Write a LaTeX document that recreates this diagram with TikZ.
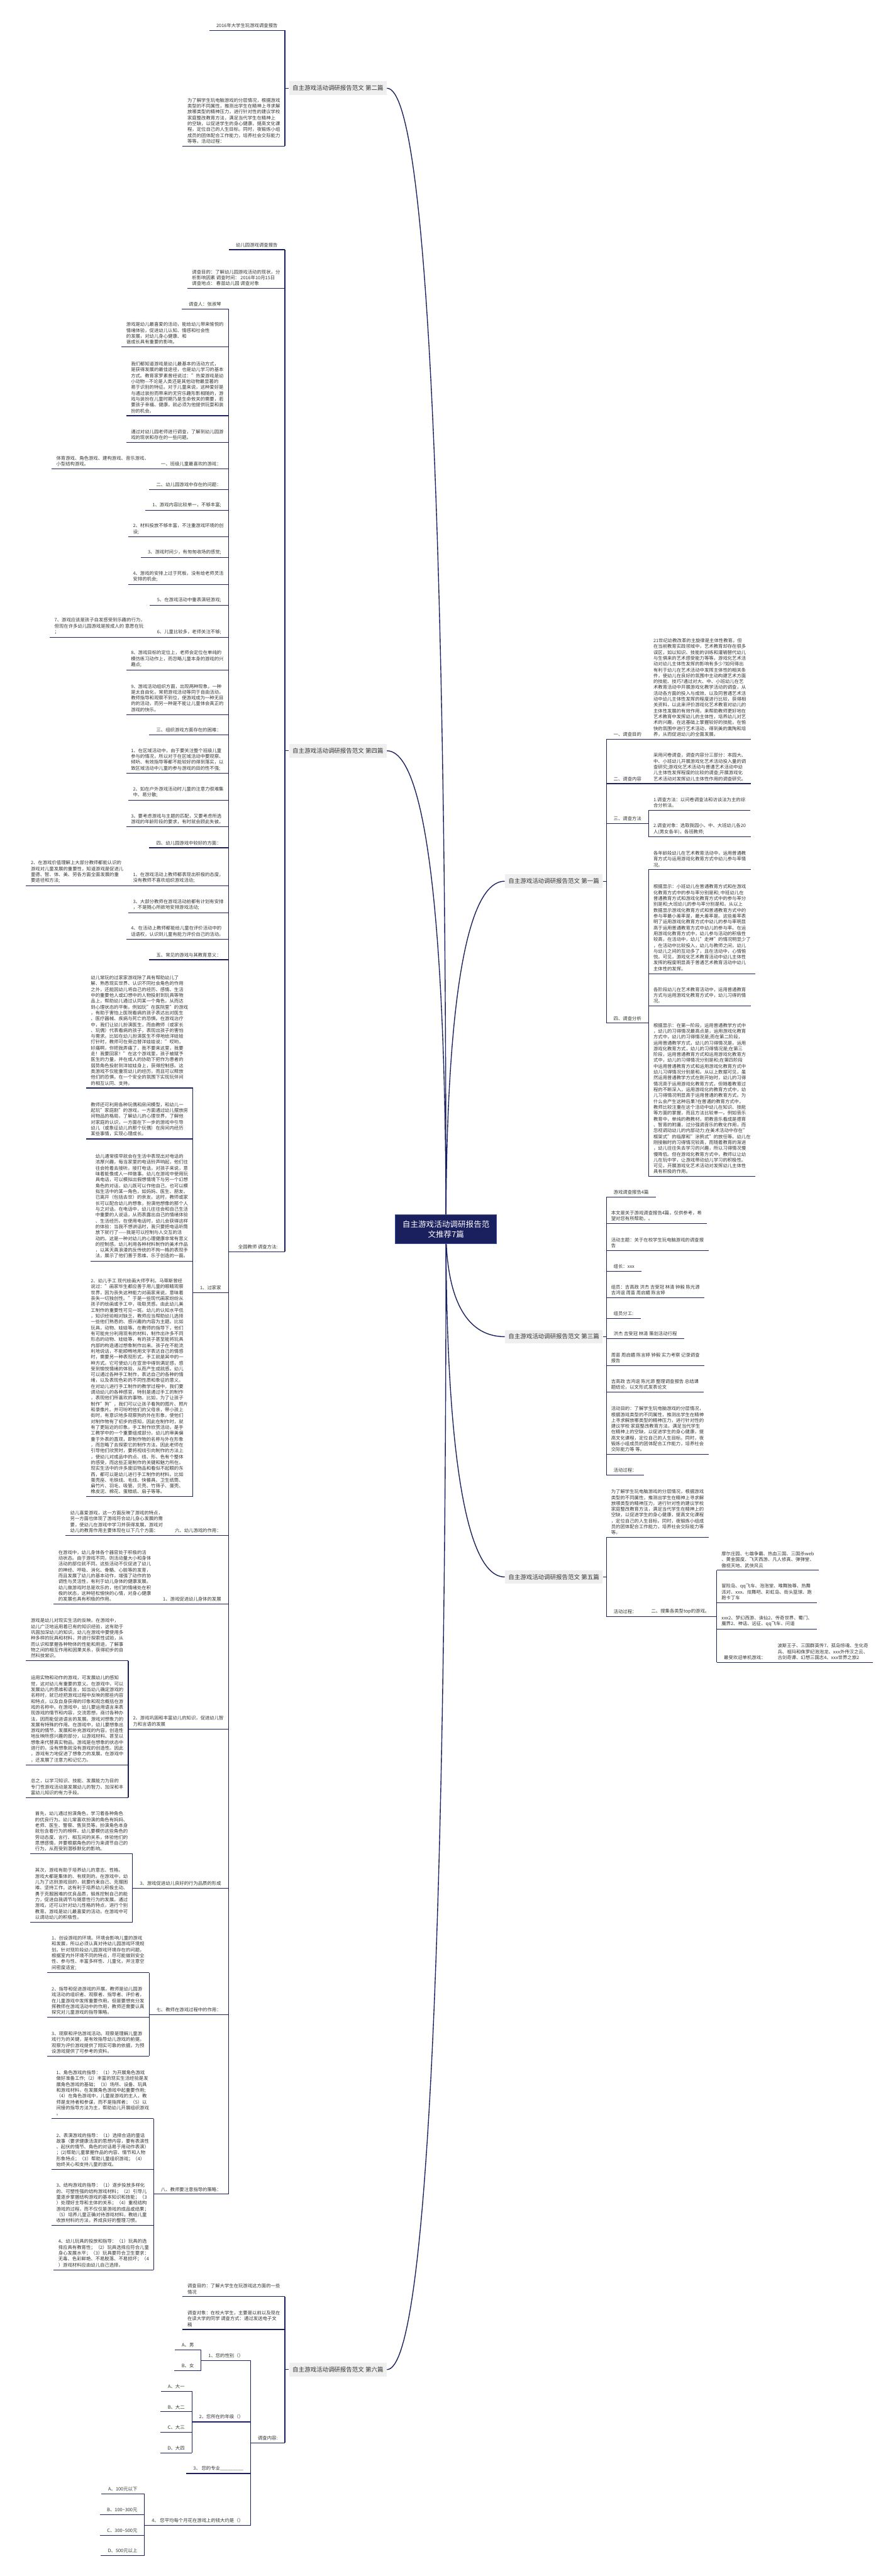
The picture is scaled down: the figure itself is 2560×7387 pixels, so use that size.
\documentclass[tikz,border=0pt]{standalone}
\usepackage{fontspec}
\setmainfont{Noto Sans CJK SC}
\definecolor{navy}{HTML}{1A1F5E}
\definecolor{rootedge}{HTML}{3B4C9B}
\definecolor{labelgray}{HTML}{EFEFEF}
\definecolor{textgray}{HTML}{333333}
\newcommand\bodyfont{\fontsize{3.78pt}{4.78pt}\selectfont}
\newcommand\branchfont{\fontsize{4.87pt}{5.8pt}\selectfont}
\newcommand\hubfont{\fontsize{6.46pt}{8.25pt}\selectfont}
\tikzset{
  ln/.style={draw=navy, line width=0.2mm},
  curve/.style={draw=navy, line width=0.25mm},
  rootbox/.style={fill=navy, draw=rootedge, line width=0.15mm, text=white, font=\hubfont,
    align=center, minimum width=29mm, minimum height=8.3mm, inner sep=0pt},
  branch/.style={fill=labelgray, font=\branchfont, minimum width=28mm, minimum height=3.9mm, inner sep=0pt},
  ritem/.style={anchor=south west, font=\bodyfont, inner xsep=2mm, inner ysep=0.7mm},
  litem/.style={anchor=south east, font=\bodyfont, inner xsep=2mm, inner ysep=0.7mm},
  rpara/.style={ritem, align=left, inner xsep=1.3mm},
  lpara/.style={litem, align=left, inner xsep=1.3mm},
}
\begin{document}
\begin{tikzpicture}[x=0.1mm, y=-0.1mm, every node/.style={text=textgray}]
\useasboundingbox (0,0) rectangle (2560,7387);

% branch labels
\node[branch] (b2) at (969,253) {自主游戏活动调研报告范文 第二篇};
\node[branch] (b4) at (969,2153) {自主游戏活动调研报告范文 第四篇};
\node[branch] (b6) at (969,6795) {自主游戏活动调研报告范文 第六篇};
\node[branch] (b1) at (1588,2527) {自主游戏活动调研报告范文 第一篇};
\node[branch] (b3) at (1588,3833) {自主游戏活动调研报告范文 第三篇};
\node[branch] (b5) at (1588,4522) {自主游戏活动调研报告范文 第五篇};

% curves from the centre
\coordinate (hub) at (1279,3525);
\draw[curve] (hub) .. controls (1279,1562) and (1228,253) .. (b2.east);
\draw[curve] (hub) .. controls (1279,2702) and (1228,2153) .. (b4.east);
\draw[curve] (hub) .. controls (1279,5487) and (1228,6795) .. (b6.east);
\draw[curve] (hub) .. controls (1279,2926) and (1330,2527) .. (b1.west);
\draw[curve] (hub) .. controls (1279,3710) and (1330,3833) .. (b3.west);
\draw[curve] (hub) .. controls (1279,4123) and (1330,4522) .. (b5.west);
\node[rootbox] (root) at (hub) {自主游戏活动调研报告范\\文推荐7篇};

% ---------------- 第一篇
\node[ritem] (r1a) at (1739,2120) {一、调查目的};
\node[rpara] (r1a1) at (r1a.south east) {21世纪幼教改革的主旋律是主体性教育。但\\在当前教育实践领域中，艺术教育却存在很多\\误区，如以知识、技能的训练和灌输替代幼儿\\与生俱来的艺术感受能力等等。游戏化艺术活\\动对幼儿主体性发挥的影响有多少?如何得出\\有利于幼儿在艺术活动中发挥主体性的相关条\\件，使幼儿在良好的氛围中主动构建艺术方面\\的技能、技巧?通过对大、中、小班幼儿在艺\\术教育活动中开展游戏化教学活动的调查，从\\活动各方面的投入与成效、以及同普通艺术活\\动中幼儿主体性发挥的程度进行比较，获得相\\关资料，以此来评价游戏化艺术教育对幼儿的\\主体性发展的有效作用，来帮助教师更好地在\\艺术教育中发挥幼儿的主体性，培养幼儿对艺\\术的兴趣，在这基础上掌握较好的技能，在愉\\快的氛围中进行艺术活动，得到美的熏陶和培\\养，从而促进幼儿的全面发展。};
\node[ritem] (r1b) at (1739,2247) {二、调查内容};
\node[rpara] (r1b1) at (r1b.south east) {采用问卷调查，调查内容分三部分：本园大、\\中、小班幼儿开展游戏化艺术活动投入量的调\\查研究;游戏化艺术活动与普通艺术活动中幼\\儿主体性发挥程度的比较的调查;开展游戏化\\艺术活动对发挥幼儿主体性作用的调查研究。};
\node[ritem] (r1c) at (1739,2362) {三、调查方法};
\node[rpara] (r1c1) at (r1c.south east |- 0,2324) {1.调查方法：以问卷调查法和访谈法为主的综\\合分析法。};
\node[rpara] (r1c2) at (r1c.south east |- 0,2400) {2.调查对象：选取我园小、中、大班幼儿各20\\人(男女各半)，各班教师;};
\node[ritem] (r1d) at (1739,2934) {四、调查分析};
\node[rpara] (r1d1) at (r1d.south east |- 0,2494) {各年龄段幼儿在艺术教育活动中，运用普通教\\育方式与运用游戏化教育方式中幼儿参与率情\\况。};
\node[rpara] (r1d2) at (r1d.south east |- 0,2792) {根据显示：小班幼儿在普通教育方式和在游戏\\化教育方式中的参与率分别是和; 中班幼儿在\\普通教育方式和游戏化教育方式中的参与率分\\别是和;大班幼儿的参与率分别是和。从以上\\数据显示游戏化教育方式和普通教育方式中的\\参与率最小差率是，最大差率是。这些差率表\\明了运用游戏化教育方式中幼儿的参与率明显\\高于运用普通教育方式中幼儿的参与率。在运\\用游戏化教育方式中，幼儿参与活动的积极性\\较高，在活动中，幼儿"走神"的情况明显少了\\，在活动中比较投入，幼儿与教师之间，幼儿\\与幼儿之间的互动多了，且在活动中，心情愉\\悦。可见，游戏化艺术教育活动中幼儿主体性\\发挥的程度明显高于普通艺术教育活动中幼儿\\主体性的发挥。};
\node[rpara] (r1d3) at (r1d.south east |- 0,2885) {各阶段幼儿在艺术教育活动中，运用普通教育\\方式与运用游戏化教育方式中，幼儿习得的情\\况。};
\node[rpara] (r1d4) at (r1d.south east |- 0,3374) {根据显示：在第一阶段，运用普通教学方式中\\，幼儿的习得情况最高点是，运用游戏化教育\\方式中，幼儿的习得情况是;而在第二阶段，\\运用普通教学方式，幼儿的习得情况是，运用\\游戏化教育方式，幼儿的习得情况是;在第三\\阶段，运用普通教育方式和运用游戏化教育方\\式中，幼儿的习得情况分别是和;在第四阶段\\中运用普通教育方式和运用游戏化教育方式中\\幼儿习得情况分别是和。从以上数据可见，虽\\然运用普通教学方式在刚开始时，幼儿的习得\\情况高于运用游戏化教育方式，但随着教育过\\程的不断深入，运用游戏化的教育方式中，幼\\儿习得情况明显高于运用普通的教育方式。为\\什么会产生这种后果?在普通的教育方式中，\\教师比较注重在这个活动中幼儿在知识、技能\\等方面的掌握，而且方法比较单一。例如音乐\\教育中，单纯的教教材，把教音乐看成是德育\\、智育的附庸，过分强调音乐的教化作用，而\\忽视调动幼儿的内部动力;在美术活动中存在"\\框架式"的临摩和"涂鸦式"的放任等。幼儿在\\刚接触时的习得情况较高，而随着教育的渐进\\，幼儿往往失去学习的兴趣，所以习得情况慢\\慢降低。但在游戏化教育方式中，教师以让幼\\儿在玩中学，让游戏带动幼儿学习的积极性。\\可见，开展游戏化艺术活动对发挥幼儿主体性\\具有积极的作用。};
\draw[ln] (b1.east) -- (b1.east -| r1a.south west);
\draw[ln] (r1a.south west) -- (r1d.south west);
\draw[ln] (r1a.south west) -- (r1a1.south east);
\draw[ln] (r1b.south west) -- (r1b1.south east);
\draw[ln] (r1c.south west) -- (r1c.south east);
\draw[ln] (r1d.south west) -- (r1d.south east);
\draw[ln] (r1c1.south west) -- (r1c2.south west);
\draw[ln] (r1d1.south west) -- (r1d4.south west);
\foreach \n in {r1c1,r1c2,r1d1,r1d2,r1d3,r1d4}
  \draw[ln] (\n.south west) -- (\n.south east);

% ---------------- 第三篇
\node[ritem] (r3a) at (1739,3433) {游戏调查报告4篇};
\node[rpara] (r3b) at (1739,3509) {本文是关于游戏调查报告4篇，仅供参考，希\\望对您有所帮助，。};
\node[rpara] (r3c) at (1739,3586) {活动主题：关于在校学生玩电脑游戏的调查报\\告};
\node[ritem] (r3d) at (1739,3645) {组长：xxx};
\node[rpara] (r3e) at (1739,3721) {组员：吉高政 洪杰 吉受冠 林清 钟毅 陈光源\\吉鸿谊 周苗 周启媚 陈言婷};
\node[ritem] (r3f) at (1739,3781) {组员分工:};
\node[ritem] (r3g) at (1739,3839) {洪杰 吉受冠 林清 策划活动行程};
\node[rpara] (r3h) at (1739,3916) {周苗 周启媚 陈言婷 钟毅 实力考察 记录调查\\报告};
\node[rpara] (r3i) at (1739,3992) {吉高政 吉鸿谊 陈光源 整理调查报告 总结课\\题结论，以文形式发表论文};
\node[rpara] (r3j) at (1739,4171) {活动目的：了解学生玩电脑游戏的分层情况，\\根据游戏类型的不同属性，推测出学生在精神\\上寻求解放哪类型的精神压力，进行针对性的\\建议学校 家庭整改教育方法，满足当代学生\\在精神上的空缺，以促进学生的身心健康，提\\高文化课程，定位自己的人生目标。同时，夜\\锻炼小组成员的团体配合工作能力，培养社会\\交际能力等 等。};
\node[ritem] (r3k) at (1739,4230) {活动过程：};
\draw[ln] (b3.east) -- (b3.east -| r3a.south west);
\draw[ln] (r3a.south west) -- (r3k.south west);
\foreach \n in {r3a,r3b,r3c,r3d,r3e,r3f,r3g,r3h,r3i,r3j,r3k}
  \draw[ln] (\n.south west) -- (\n.south east);

% ---------------- 第五篇
\node[rpara] (r5a) at (1739,4409) {为了解学生玩电脑游戏的分层情况，根据游戏\\类型的不同属性，推测出学生在精神上寻求解\\放哪类型的精神压力，进行针对性的建议学校\\家庭整改教育方法，满足当代学生在精神上的\\空缺，以促进学生的身心健康，提高文化课程\\，定位自己的人生目标。同时，夜锻炼小组成\\员的团体配合工作能力，培养社会交际能力等\\等。};
\node[ritem] (r5b) at (1739,4635) {活动过程：};
\node[ritem] (r5c) at (r5b.south east) {二、搜集各类型top的游戏。};
\node[rpara] (g1) at (r5c.south east |- 0,4503) {摩尔庄园、七雄争霸、热血三国、三国杀web\\、黄金国度、飞天西游、凡人修真、弹弹堂、\\傲视天地、武侠风云};
\node[rpara] (g2) at (r5c.south east |- 0,4596) {冒险岛、qq飞车、泡泡堂、唯舞独尊、热舞\\派对、xxx、炫舞吧、彩虹岛、街头篮球、跑\\跑卡丁车};
\node[rpara] (g3) at (r5c.south east |- 0,4672) {xxx2、梦幻西游、诛仙2、传奇世界、蜀门、\\魔界2、神话、远征、qq飞车、问道};
\node[ritem] (g4) at (r5c.south east |- 0,4767) {最受欢迎单机游戏：};
\node[rpara] (g4a) at (g4.south east) {波斯王子、三国群英传7、孤岛惊魂、生化奇\\兵、祖玛和侏罗纪泡泡龙、xxx外传汉之云、\\古剑奇谭、幻想三国志4、xxx世界之旅2};
\draw[ln] (b5.east) -- (b5.east -| r5a.south west);
\draw[ln] (r5a.south west) -- (r5b.south west);
\draw[ln] (r5b.south west) -- (r5c.south east);
\draw[ln] (g1.south west) -- (g4.south west);
\draw[ln] (g4.south west) -- (g4a.south east);
\foreach \n in {r5a,g1,g2,g3}
  \draw[ln] (\n.south west) -- (\n.south east);

% ---------------- 第二篇
\node[litem] (l2a) at (817,87) {2016年大学生玩游戏调查报告};
\node[lpara] (l2b) at (817,419) {为了解学生玩电脑游戏的分层情况，根据游戏\\类型的不同属性，推测出学生在精神上寻求解\\放哪类型的精神压力，进行针对性的建议学校\\家庭整改教育方法，满足当代学生在精神上\\的空缺，以促进学生的身心健康，提高文化课\\程，定位自己的人生目标。同时，夜锻炼小组\\成员的团体配合工作能力，培养社会交际能力\\等等。活动过程：};
\draw[ln] (b2.west) -- (b2.west -| l2a.south east);
\draw[ln] (l2a.south east) -- (l2b.south east);
\foreach \n in {l2a,l2b}
  \draw[ln] (\n.south east) -- (\n.south west);

% ---------------- 第四篇
\node[litem] (l4a) at (817,716) {幼儿园游戏调查报告};
\node[lpara] (l4b) at (817,827) {调查目的：了解幼儿园游戏活动的现状，分\\析影响因素 调查时间： 2016年10月15日\\调查地点： 春苗幼儿园 调查对象};
\node[litem] (l4c) at (817,3589) {全园教师 调查方法:};
\draw[ln] (b4.west) -- (b4.west -| l4a.south east);
\draw[ln] (l4a.south east) -- (l4c.south east);
\foreach \n in {l4a,l4b,l4c}
  \draw[ln] (\n.south east) -- (\n.south west);

\node[litem] (c1) at (655,886) {调查人：张淑琴};
\node[lpara] (c2) at (655,995) {游戏是幼儿最喜爱的活动，能给幼儿带来愉悦的\\情绪体验，促进幼儿认知、情感和社会性\\的发展，对幼儿身心健康、和\\谐成长具有重要的影响。};
\node[lpara] (c3) at (655,1192) {我们都知道游戏是幼儿最基本的活动方式，\\是获得发展的最佳途径，也是幼儿学习的基本\\方式。教育家罗素曾经说过："热爱游戏是幼\\小动物—不论是人类还是其他动物最显著的\\易于识别的特征。对于儿童来说，这种爱好是\\与通过装扮而带来的无穷乐趣形影相随的，游\\戏与装扮在儿童时期乃是生命攸关的需要，若\\要孩子幸福、健康，就必须为他提供玩耍和装\\扮的机会。};
\node[lpara] (c4) at (655,1269) {通过对幼儿园老师进行调查，了解到幼儿园游\\戏的现状和存在的一些问题。};
\node[litem] (c5) at (655,1345) {一、班级儿童最喜欢的游戏：};
\node[lpara] (c5a) at (c5.south west) {体育游戏、角色游戏、建构游戏、音乐游戏、\\小型结构游戏。};
\node[litem] (c6) at (655,1404) {二、幼儿园游戏中存在的问题：};
\node[litem] (c7) at (655,1463) {1、游戏内容比较单一，不够丰富;};
\node[lpara] (c8) at (655,1540) {2、材料投放不够丰富，不注重游戏环境的创\\设;};
\node[litem] (c9) at (655,1599) {3、游戏时间少，有匆匆收场的感觉;};
\node[lpara] (c10) at (655,1676) {4、游戏的安排上过于死板，没有给老师灵活\\安排的机会;};
\node[litem] (c11) at (655,1735) {5、在游戏活动中重表演轻游戏;};
\node[litem] (c12) at (655,1827) {6、儿童比较多，老师关注不够;};
\node[lpara] (c12a) at (c12.south west) {7、游戏应该是孩子自发感受到乐趣的行为，\\但现在许多幼儿园游戏是按成人的 意愿在玩\\；};
\node[lpara] (c13) at (655,1921) {8、游戏目标的定位上，老师会定位在单纯的\\模仿练习动作上，而忽略儿童本身的游戏的兴\\趣点;};
\node[lpara] (c14) at (655,2049) {9、游戏活动组织方面，出现两种现象，一种\\是太自由化，常把游戏活动等同于自由活动，\\教师指导和观察不到位，使游戏成为一种无目\\的的活动，而另一种是不能让儿童体会真正的\\游戏的快乐。};
\node[litem] (c15) at (655,2108) {三、组织游戏方面存在的困难：};
\node[lpara] (c16) at (655,2218) {1、在区域活动中，由于要关注整个班级儿童\\参与的情况，所以对于在区域活动中要观察、\\倾听、有效指导等都不能较好的得到落实，以\\致区域活动中儿童的参与游戏的目的性不强;};
\node[lpara] (c17) at (655,2295) {2、如在户外游戏活动时儿童的注意力很难集\\中、易分散;};
\node[lpara] (c18) at (655,2371) {3、要考虑游戏与主题的匹配，又要考虑所选\\游戏的年龄阶段的要求，有时就会顾此失彼。};
\node[litem] (c19) at (655,2431) {四、幼儿园游戏中较好的方面：};
\node[lpara] (c20) at (655,2540) {1、在游戏活动上教师都表现出积极的态度，\\没有教师不喜欢组织游戏活动;};
\node[lpara] (c20a) at (c20.south west) {2、在游戏价值理解上大部分教师都能认识的\\游戏对儿童发展的重要性，知道游戏是促进儿\\ 童德、智、体、美、劳各方面全面发展的重\\要途径和方法;};
\node[lpara] (c21) at (655,2617) {3、大部分教师在游戏活动前都有计划有安排\\，不是随心所欲地安排游戏活动;};
\node[lpara] (c22) at (655,2693) {4、在活动上教师都能给儿童在评价活动中的\\话语权，认识到儿童有能力评价自己的活动。};
\node[litem] (c23) at (655,2752) {五、常见的游戏与其教育意义：};
\node[litem] (c24) at (655,3707) {1、过家家};
\node[lpara] (c24a) at (c24.south west |- 0,3120) {幼儿常玩的过家家游戏除了具有帮助幼儿了\\解、熟悉现实世界、认识不同社会角色的作用\\之外，还能因幼儿将自己的经历、感情、生活\\中的重要他人或幻想中的人物投射到玩具等物\\品上，帮助幼儿通过认同某一个角色，从而达\\到心理状态的平衡。例如玩"在医院里"的游戏\\，有助于害怕上医院看病的孩子表达出对医生\\、医疗器械、疾病与死亡的恐惧。在游戏治疗\\中，我们让幼儿扮演医生，而由教师（或家长\\、玩偶）代表看病的孩子，表现出孩子的害怕\\与需求。比如在幼儿扮演医生不停地给洋娃娃\\打针时，教师可在旁边替洋娃娃说："哎哟，\\好痛啊，你把我弄痛了，我不要来这里，我要\\走！我要回家！"在这个游戏里，孩子被赋予\\医生的力量，并在成人的协助下把作为患者的\\弱势角色投射到洋娃娃身上，获得控制感。这\\类游戏不仅能重现幼儿的经历，而且可以释放\\他们的恐惧，在一个安全的氛围下实现玩伴间\\的相互认同、支持。};
\node[lpara] (c24b) at (c24.south west |- 0,3266) {教师还可利用各种玩偶和房间模型，和幼儿一\\起玩"家庭剧"的游戏，一方面通过幼儿摆放房\\间物品的格局，了解幼儿的心理世界，了解他\\对家庭的认识，一方面在下一步的游戏中引导\\幼儿（或象征幼儿的那个玩偶）在房间内经历\\某些事情，实现心理成长。};
\node[lpara] (c24c) at (c24.south west |- 0,3616) {幼儿通常很早就会在生活中表现出对电话的\\浓厚兴趣，每当家里的电话铃声响起，他们往\\往会抢着去接听。接打电话，对孩子来说，意\\味着能像成人一样做事。幼儿在游戏中使用玩\\具电话，可以模拟出假想情境下与另一个幻想\\角色的对话，幼儿既可以作他自己，也可以模\\拟生活中的某一角色，如妈妈、医生、朋友、\\已离开（包括去世）的亲友。这时，教师或家\\长可以配合幼儿的想象，扮演他想像的那个人\\与之对话。在电话中，幼儿往往会和自己生活\\中重要的人说话，从而表露出自己的情绪体验\\、生活经历。在使用电话时，幼儿会获得这样\\的体验：当我不想讲话时，我只要把电话听筒\\放下就行了——我是可以控制与人交互的活\\动的。这是一种对幼儿的心理健康非常有意义\\的控制感。幼儿利用各种材料制作的美术作品\\，以其天真浪漫的反传统的不拘一格的表现手\\法，展示了他们善于思维、乐于创造的一面。};
\node[lpara] (c24d) at (c24.south west |- 0,4292) {2、幼儿手工 现代绘画大师亨利。马蒂斯曾经\\说过："画家毕生都应善于用儿童的眼睛观察\\世界，因为丧失这种能力对画家来说，意味着\\丧失一切独创性。"于是一些现代画家纷纷从\\孩子的绘画或手工中，吸取灵感。由此幼儿美\\工制作的重要性可见一斑。幼儿的认知水平低\\，知识经验相对缺乏，教师应当帮助幼儿选择\\一些他们熟悉的、感兴趣的内容为主题。比如\\玩具，动物、娃娃等。在教师的指导下，他们\\有可能充分利用现有的材料，制作出许多不同\\形态的动物、娃娃等，有的孩子甚至能将玩具\\内部的构造通过想象制作出来。孩子在不能流\\利地说话，不能顺畅地用文字表达自己的情感\\时，需要另一种表现形式，手工就是其中的一\\种方式。它可使幼儿在宣泄中得到满足感，感\\受到愉悦情绪的体验，从而产生成就感。幼儿\\可以通过各种手工制作，表达自己的各种的情\\绪，以及表现色彩的不同性质和象征的意义。\\在对幼儿进行手工制作的教学过程中，我们要\\调动幼儿的各种感官，特别是通过手工的制作\\，表现他们所喜欢的事物。比如，为了让孩子\\制作"狗"，我们可以让孩子看狗的图片、照片\\和录像片。并可吩咐他们的父母亲，带小孩上\\街时，有意识地多观察狗的外在形象，使他们\\对制作物有了初步的感知，因此在制作时，就\\有了更贴近的印象。手工制作欣赏活动，是手\\工教学中的一个重要组成部分。幼儿的审美偏\\重于外表的直观，即制作物的名称与外在形象\\，而忽略了去探索它的制作方法。因此老师在\\引导他们欣赏时，要将视线引向制作的方法上\\，使幼儿对成品中的点、线、形、色有个整体\\的感受，而这些正是制作的关键和魅力所在。\\现实生活中的许多废旧物品和看似不起眼的东\\西，都可以是幼儿进行手工制作的材料。比如\\蛋壳座、毛铁线、毛线、快餐具、卫生纸筒、\\扁竹片、羽毛、吸管、贝壳、竹筛子、蛋壳、\\橡皮泥、棉花、蛋糕纸、扇子等等。};
\node[litem] (c25) at (655,4403) {六、幼儿游戏的作用：};
\node[lpara] (c25a) at (c25.south west) {幼儿喜爱游戏，这一方面反映了游戏的特点，\\另一方面也体现了游戏符合幼儿身心发展的需\\要，使幼儿在游戏中学习并获得发展。游戏对\\幼儿的教育作用主要体现在以下几个方面：};
\node[litem] (c26) at (655,4600) {1、游戏促进幼儿身体的发展};
\node[lpara] (c26a) at (c26.south west) {在游戏中，幼儿身体各个器官处于积极的活\\动状态。由于游戏不同，则活动量大小和身体\\活动的部位就不同。这些活动不仅促进了幼儿\\的神经、呼吸、消化、骨骼、心脏等的发育，\\而且发展了幼儿的基本动作，增强了动作的协\\调性与灵活性，有利于幼儿身体的健康发展。\\幼儿做游戏时总是欢乐的，他们的情绪处在积\\极的状态，这种轻松愉快的心情，对身心健康\\的发展也具有积极的作用。};
\node[lpara] (c27) at (655,4958) {2、游戏巩固和丰富幼儿的知识，促进幼儿智\\力和言语的发展};
\node[lpara] (c27a) at (c27.south west |- 0,4762) {游戏是幼儿对现实生活的反映。在游戏中，\\幼儿广泛地运用着已有的知识经验，这有助于\\巩固加深幼儿的知识。幼儿在游戏中要使用多\\种多样的玩具和材料，并进行探索性试验，从\\而认识和掌握各种物体的性能和用途，了解事\\物之间的相互作用和因果关系，获得初步的自\\然科技常识。};
\node[lpara] (c27b) at (c27.south west |- 0,5061) {运用实物和动作的游戏，可发展幼儿的感知\\觉，这对幼儿有重要的意义。在游戏中，可以\\发展幼儿的思维和语言，如当幼儿确定游戏的\\名称时，就已经把游戏过程中反映的那些内容\\和特点，以及自身获得的印象和观念概括在游\\戏的名称中。在游戏中，幼儿要运用语言来表\\现游戏的情节和内容，交流思想，商讨各种办\\法，因而能促进语言的发展。游戏对想象力的\\发展有特殊的作用。在游戏中，幼儿要想象出\\游戏的情节，发展和补充游戏的内容，创造性\\地反映所感兴趣的部分，以游戏材料、甚至以\\想象来代替真实物品。游戏是在想象的状态中\\进行的，没有想象就没有游戏的创造性。因此\\，游戏有力地促进了想象力的发展。在游戏中\\，还发展了注意力和记忆力。};
\node[lpara] (c27c) at (c27.south west |- 0,5155) {总之，以学习知识、技能、发展能力为目的\\专门性游戏活动是发展幼儿的智力、加深和丰\\富幼儿知识的有力手段。};
\node[litem] (c28) at (655,5415) {3、游戏促进幼儿良好的行为品质的形成};
\node[lpara] (c28a) at (c28.south west |- 0,5316) {首先，幼儿通过扮演角色，学习着各种角色\\的优良行为。幼儿常喜欢扮演的角色有妈妈、\\老师、医生、警察、售货员等。扮演角色本身\\就包含着行为的榜样。幼儿要模仿这些角色的\\劳动态度、言行、相互间的关系，体验他们的\\思想感情，并要根据角色的行为来调节自己的\\行为，从而受到潜移默化的影响。};
\node[lpara] (c28b) at (c28.south west |- 0,5512) {其次，游戏有助于培养幼儿的意志、性格。\\游戏大都是集体的、有规则的。在游戏中，幼\\儿为了达到游戏目的，就要约束自己、克服困\\难、坚持工作，这有利于培养幼儿积极主动、\\勇于克服困难的优良品质，锻炼控制自己的能\\力，促进自我调节与随意性行为的发展。通过\\游戏，还可以针对幼儿性格的特点，进行个别\\教育。游戏是幼儿最喜爱的活动，在游戏中可\\以调动幼儿的积极性。};
\node[litem] (c29) at (655,5777) {七、教师在游戏过程中的作用：};
\node[lpara] (c29a) at (c29.south west |- 0,5657) {1、创设游戏的环境。环境会影响儿童的游戏\\和发展，所以必须认真对待幼儿园游戏环境规\\划。针对现阶段幼儿园游戏环境存在的问题，\\根据室内外环境不同的特点，尽可能做到安全\\性、参与性、丰富多样性、儿童化，并注意空\\间密度适宜;};
\node[lpara] (c29b) at (c29.south west |- 0,5785) {2、指导和促进游戏的开展。教师是幼儿园游\\戏活动的组织者、观察者、指导者、评价者，\\在儿童游戏中发挥重要作用。但是要想充分发\\挥教师在游戏活动中的作用，教师还需要认真\\探究对儿童游戏的指导策略。};
\node[lpara] (c29c) at (c29.south west |- 0,5896) {3、观察和评估游戏活动。观察是理解儿童游\\戏行为的关键，是有效指导幼儿游戏的前提。\\观察为评价游戏提供了翔实可靠的依据，为预\\设游戏提供了可参考的资料。};
\node[litem] (c30) at (655,6292) {八、教师要注意指导的策略：};
\node[lpara] (c30a) at (c30.south west |- 0,6075) {1、角色游戏的指导：（1）为开展角色游戏\\做好准备工作;（2）丰富的现实生活经验是发\\展角色游戏的基础；（3）场所、设备、玩具\\和游戏材料，在发展角色游戏中起重要作用;\\（4）在角色游戏中，儿童是游戏的主人，教\\师是支持者和参谋，而不是指挥者；（5）以\\间接的指导方法为主，帮助幼儿开展组织游戏\\。};
\node[lpara] (c30b) at (c30.south west |- 0,6221) {2、表演游戏的指导：（1）选择合适的童话\\故事（要求健康活泼的思想内容，要有表演性\\、起伏的情节、角色的对话易于用动作表演）\\；(2)帮助儿童掌握作品的内容、情节和人物\\形象特点；（3）帮助儿童组织游戏；（4）\\始终关心和支持儿童的游戏。};
\node[lpara] (c30c) at (c30.south west |- 0,6382) {3、结构游戏的指导：（1）逐步投放多样化\\的、可塑性强的结构游戏材料；（2）引导儿\\童逐步掌握结构游戏的基本知识和技能；（3\\）处理好主导和主体的关系；（4）重视结构\\游戏的过程，而不仅仅是游戏的成品或结果；\\（5）培养儿童正确对待游戏材料，教给儿童\\收放材料的方法，养成良好的整理习惯。};
\node[lpara] (c30d) at (c30.south west |- 0,6509) {4、幼儿玩具的投放和指导：（1）玩具的选\\择应具有教育性；（2）玩具选择应符合儿童\\身心发展水平；（3）玩具要符合卫生要求：\\无毒、色彩鲜艳、不易脱落、不易损坏；（4\\）游戏材料应由幼儿自己选择。};
\draw[ln] (l4c.south west) -- (l4c.south west -| c1.south east);
\draw[ln] (c1.south east) -- (c30.south east);
\draw[ln] (c24a.south east) -- (c24d.south east);
\draw[ln] (c27a.south east) -- (c27c.south east);
\draw[ln] (c28a.south east) -- (c28b.south east);
\draw[ln] (c29a.south east) -- (c29c.south east);
\draw[ln] (c30a.south east) -- (c30d.south east);
\foreach \n in {c1,c2,c3,c4,c5,c5a,c6,c7,c8,c9,c10,c11,c12,c12a,c13,c14,c15,c16,c17,c18,c19,c20,c20a,c21,c22,c23,c24,c24a,c24b,c24c,c24d,c25,c25a,c26,c26a,c27,c27a,c27b,c27c,c28,c28a,c28b,c29,c29a,c29b,c29c,c30,c30a,c30b,c30c,c30d}
  \draw[ln] (\n.south east) -- (\n.south west);

% ---------------- 第六篇
\node[lpara] (l6a) at (817,6586) {调查目的：了解大学生在玩游戏这方面的一些\\情况};
\node[lpara] (l6b) at (817,6680) {调查对象：在校大学生，主要是以前以及现在\\在读大学的同学 调查方式：通过发送电子文\\稿};
\node[litem] (l6c) at (817,7005) {调查内容:};
\node[litem] (q1) at (l6c.south west |- 0,6769) {1、您的性别（）};
\node[litem] (q1a) at (q1.south west |- 0,6739) {A、男};
\node[litem] (q1b) at (q1.south west |- 0,6798) {B、女};
\node[litem] (q2) at (l6c.south west |- 0,6945) {2、您所在的年级（）};
\node[litem] (q2a) at (q2.south west |- 0,6857) {A、大一};
\node[litem] (q2b) at (q2.south west |- 0,6916) {B、大二};
\node[litem] (q2c) at (q2.south west |- 0,6975) {C、大三};
\node[litem] (q2d) at (q2.south west |- 0,7034) {D、大四};
\node[litem] (q3) at (l6c.south west |- 0,7093) {3、 您的专业\_\_\_\_\_\_\_\_\_};
\node[litem] (q4) at (l6c.south west |- 0,7241) {4、 您平均每个月花在游戏上的钱大约是（）};
\node[litem] (q4a) at (q4.south west |- 0,7152) {A、100元以下};
\node[litem] (q4b) at (q4.south west |- 0,7211) {B、100\textasciitilde300元};
\node[litem] (q4c) at (q4.south west |- 0,7270) {C、300\textasciitilde500元};
\node[litem] (q4d) at (q4.south west |- 0,7329) {D、500元以上};
\draw[ln] (b6.west) -- (b6.west -| l6a.south east);
\draw[ln] (l6a.south east) -- (l6c.south east);
\draw[ln] (q1.south east) -- (q4.south east);
\draw[ln] (q1a.south east) -- (q1b.south east);
\draw[ln] (q2a.south east) -- (q2d.south east);
\draw[ln] (q4a.south east) -- (q4d.south east);
\foreach \n in {l6a,l6b,l6c,q1,q1a,q1b,q2,q2a,q2b,q2c,q2d,q3,q4,q4a,q4b,q4c,q4d}
  \draw[ln] (\n.south east) -- (\n.south west);
\end{tikzpicture}
\end{document}
